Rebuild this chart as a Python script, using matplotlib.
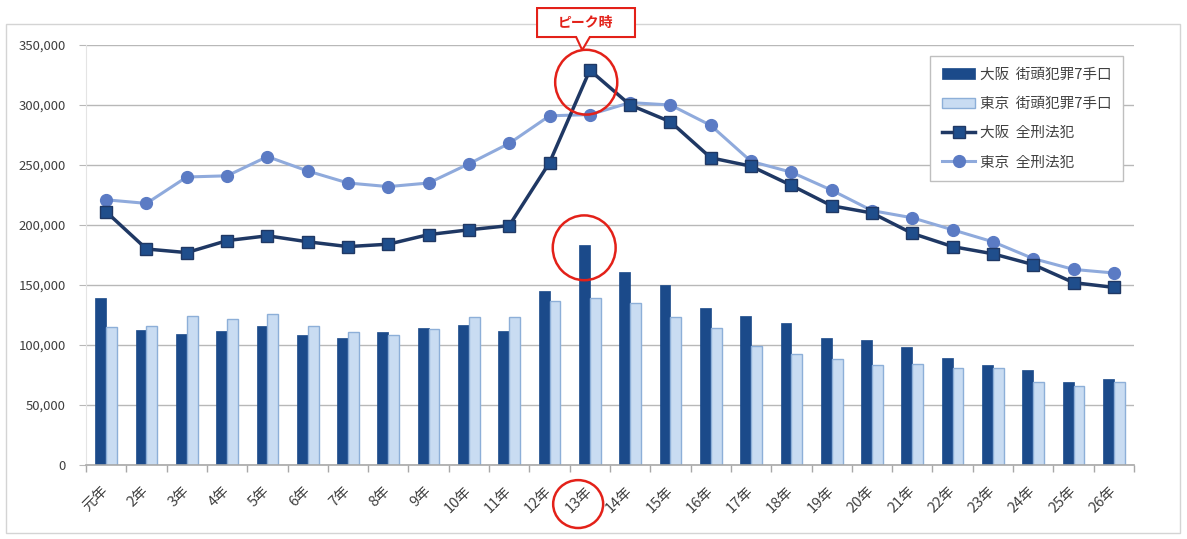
import matplotlib
matplotlib.use("Agg")
import matplotlib.pyplot as plt
import numpy as np
from matplotlib.patches import Ellipse, Polygon, Rectangle
from matplotlib.transforms import blended_transform_factory
from matplotlib.ticker import FuncFormatter, MultipleLocator

plt.rcParams['font.family'] = ['Noto Sans CJK JP', 'DejaVu Sans']

years = ['元年', '2年', '3年', '4年', '5年', '6年', '7年', '8年', '9年', '10年',
         '11年', '12年', '13年', '14年', '15年', '16年', '17年', '18年', '19年',
         '20年', '21年', '22年', '23年', '24年', '25年', '26年']

osaka_street = [139000, 112500, 109000, 111500, 116000, 108000, 106000, 110500,
                114000, 117000, 111500, 145000, 183000, 161000, 150000, 130500,
                124000, 118500, 106000, 104000, 98000, 89000, 83000, 79000,
                69000, 72000]
tokyo_street = [115000, 116000, 124500, 122000, 126000, 116000, 110500, 108000,
                113000, 123500, 123500, 137000, 139000, 135000, 123000, 114000,
                99000, 92500, 88000, 83000, 84000, 81000, 81000, 69000, 66000,
                69000]
osaka_total = [211000, 180000, 177000, 187000, 191000, 186000, 182000, 184000,
               192000, 196000, 199500, 252000, 329000, 300000, 286000, 256000,
               249000, 233000, 216000, 210000, 193000, 182000, 176000, 167000,
               152000, 148000]
tokyo_total = [221000, 218000, 240000, 241000, 257000, 245000, 235000, 232000,
               235000, 251000, 268000, 291000, 292000, 302000, 300000, 283000,
               253000, 244000, 229000, 212000, 206000, 196000, 186000, 172000,
               163000, 160000]

series_labels = ['大阪  街頭犯罪7手口', '東京  街頭犯罪7手口', '大阪  全刑法犯', '東京  全刑法犯']
callout_text = 'ピーク時'
peak_index = years.index('13年')

W, H = 1187, 539
fig = plt.figure(figsize=(W / 100, H / 100), dpi=100)
ax = fig.add_axes([86 / W, 1 - 465 / H, (1134 - 86) / W, (465 - 45) / H])

x = np.arange(len(years))
bw = 0.27
dark = '#1B4A8A'
b1 = ax.bar(x - bw / 2, osaka_street, width=bw, color=dark, edgecolor=dark,
            linewidth=0.5, label=series_labels[0], zorder=2)
b2 = ax.bar(x + bw / 2, tokyo_street, width=bw, color='#C9DCF2', edgecolor='#8DAFD8',
            linewidth=1.0, label=series_labels[1], zorder=2)
l1, = ax.plot(x, osaka_total, color='#1F3864', linewidth=2.5, marker='s', markersize=8,
              markerfacecolor='#1F4E8C', markeredgecolor='#1F3864',
              label=series_labels[2], zorder=4)
l2, = ax.plot(x, tokyo_total, color='#8FAADC', linewidth=2.2, marker='o', markersize=8.5,
              markerfacecolor='#5B7BC4', markeredgecolor='#5B7BC4',
              label=series_labels[3], zorder=3)

ax.set_xlim(-0.5, len(years) - 0.5)
ax.set_ylim(0, 350000)
ax.yaxis.set_major_locator(MultipleLocator(50000))
ax.yaxis.set_major_formatter(FuncFormatter(lambda v, p: f'{int(v):,}'))
ax.grid(axis='y', color='#B8B8B8', linewidth=1.0, zorder=0)
ax.set_axisbelow(True)

for s in ['top', 'right']:
    ax.spines[s].set_visible(False)
ax.spines['left'].set_color('#E4E4E4')
ax.spines['bottom'].set_color('#A8A8A8')
ax.spines['bottom'].set_linewidth(1.2)

ax.set_xticks(x)
ax.set_xticklabels(years, rotation=45, ha='right', va='center',
                   rotation_mode='anchor', fontsize=10.5, color='#404040')
ax.tick_params(axis='x', which='major', length=0, pad=17)
ax.set_xticks(np.arange(len(years) + 1) - 0.5, minor=True)
ax.tick_params(axis='x', which='minor', length=5, color='#A8A8A8', width=1)
ax.tick_params(axis='y', length=5, color='#B8B8B8', labelsize=9.5,
               labelcolor='#404040', pad=9.5)

leg = ax.legend(handles=[b1, b2, l1, l2], loc='upper right',
                bbox_to_anchor=(0.9895, 0.974), borderaxespad=0,
                fontsize=10.5, frameon=True, fancybox=False, edgecolor='#BFBFBF',
                framealpha=1, labelspacing=1.05, handlelength=2.3,
                handletextpad=0.3, borderpad=0.8)
for t in leg.get_texts():
    t.set_color('#404040')
leg.set_zorder(6)

red = '#E32119'
i = peak_index
ax.add_patch(Ellipse((i - 0.09, 319000), 1.54, 54000, fill=False,
                     edgecolor=red, linewidth=1.8, zorder=7, clip_on=False))
ax.add_patch(Ellipse((i - 0.14, 181000), 1.56, 54000, fill=False,
                     edgecolor=red, linewidth=1.8, zorder=7, clip_on=False))
btr = blended_transform_factory(ax.transData, ax.transAxes)
ax.add_patch(Ellipse((i - 0.29, -0.093), 1.24, 0.114, transform=btr, fill=False,
                     edgecolor=red, linewidth=1.8, zorder=7, clip_on=False))

L, R = i - 1.31, i + 1.12
B, T = 1.019, 1.088
callout = Polygon([(L, B), (i - 0.34, B), (i - 0.19, 0.988), (i + 0.0, B),
                   (R, B), (R, T), (L, T)], closed=True, transform=btr,
                  facecolor='white', edgecolor=red, linewidth=1.5,
                  zorder=8, clip_on=False)
ax.add_patch(callout)
ax.text(i - 0.095, (B + T) / 2, callout_text, transform=btr, ha='center', va='center',
        color=red, fontsize=10, fontweight='bold', zorder=9, clip_on=False)

fig.add_artist(Rectangle((6 / W, 1 - 533 / H), (1180 - 6) / W, (533 - 24) / H,
                         transform=fig.transFigure, fill=False,
                         edgecolor='#D4D4D4', linewidth=1.0, zorder=0))

fig.savefig('out.png', dpi=100)
